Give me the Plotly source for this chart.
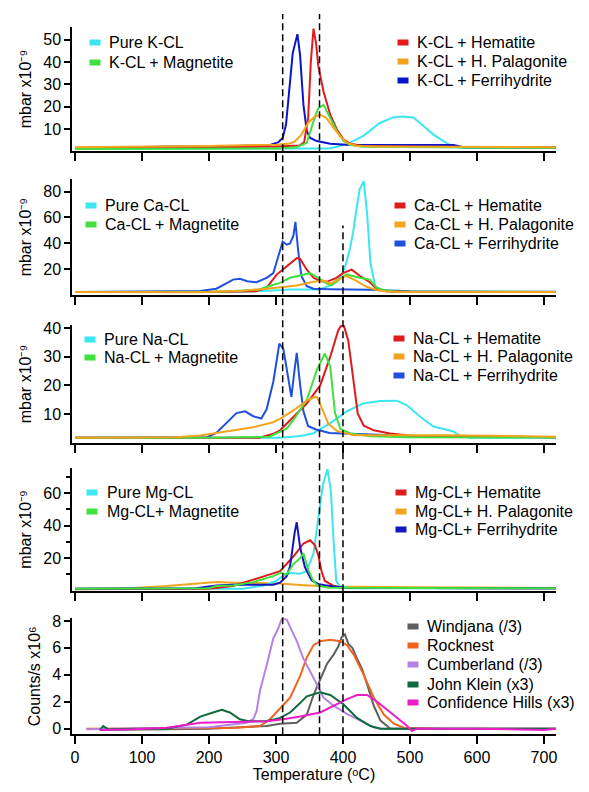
import plotly.graph_objects as go

# ---------------- data (temperature in degC, signal values) ----------------
# Panel 1: K-CL (mbar x1e-9)
K_pure_T = [0, 100, 200, 300, 380, 405, 430, 455, 475, 490, 505, 515, 535, 550, 565, 580, 650, 718]
K_pure = [1.2, 1.2, 1.2, 1.2, 1.3, 3.1, 6.8, 12.7, 15.2, 15.6, 15.2, 12.7, 7.5, 4.6, 1.9, 1.5, 1.5, 1.5]
K_mag_T = [0, 100, 200, 300, 330, 346, 356, 363, 371, 381, 391, 401, 411, 430, 500, 600, 718]
K_mag = [1.0, 1.0, 1.1, 1.3, 1.8, 3.8, 13.4, 19.3, 20.8, 14.9, 9.0, 4.6, 2.8, 2.0, 1.8, 1.7, 1.6]
K_hem_T = [0, 100, 200, 300, 335, 342, 348, 352, 356, 360, 363, 371, 381, 391, 401, 411, 430, 500, 718]
K_hem = [1.5, 1.6, 1.8, 2.2, 2.6, 4.0, 15.0, 40.0, 55.0, 48.0, 38.5, 26.7, 16.4, 9.7, 5.3, 3.4, 2.4, 2.0, 1.8]
K_pal_T = [0, 100, 200, 300, 320, 328, 338, 348, 358, 366, 375, 386, 396, 406, 421, 450, 550, 718]
K_pal = [1.8, 2.0, 2.4, 3.0, 3.5, 4.3, 7.5, 12.7, 15.6, 16.4, 15.0, 10.5, 6.8, 3.8, 2.4, 2.2, 2.0, 1.8]
K_fer_T = [0, 100, 150, 200, 250, 290, 303, 310, 315, 320, 325, 332, 336, 341, 346, 351, 361, 381, 405, 500, 565, 580, 718]
K_fer = [1.5, 1.8, 2.2, 2.0, 2.3, 2.8, 4.0, 6.0, 12.0, 27.0, 44.0, 52.5, 43.0, 20.8, 9.0, 6.0, 4.6, 3.4, 3.0, 2.8, 2.8, 1.8, 1.8]

# Panel 2: Ca-CL
Ca_pure_T = [0, 200, 250, 290, 320, 365, 381, 398, 405, 410, 415, 420, 425, 431, 436, 441, 448, 455, 470, 500, 718]
Ca_pure = [2.4, 2.4, 2.6, 3.5, 4.4, 4.4, 7.6, 15.0, 25.0, 35.0, 48.0, 66.0, 82.0, 88.0, 63.0, 25.0, 7.0, 4.4, 3.1, 2.5, 2.4]
Ca_mag_T = [0, 200, 236, 275, 296, 306, 321, 336, 351, 361, 376, 383, 396, 405, 425, 440, 450, 460, 480, 718]
Ca_mag = [2.4, 2.5, 3.2, 4.4, 8.0, 9.5, 13.4, 15.0, 17.0, 14.0, 9.0, 7.6, 13.0, 16.0, 13.4, 12.0, 6.0, 4.0, 2.7, 2.5]
Ca_hem_T = [0, 200, 270, 286, 301, 321, 331, 336, 346, 356, 366, 376, 390, 400, 413, 425, 440, 450, 465, 500, 600, 718]
Ca_hem = [2.4, 2.4, 3.0, 5.7, 15.9, 24.8, 28.6, 28.0, 19.7, 13.4, 10.8, 10.3, 13.4, 17.0, 19.7, 15.0, 10.0, 5.0, 3.0, 2.4, 2.3, 2.4]
Ca_pal_T = [0, 187, 250, 286, 331, 356, 371, 381, 395, 405, 420, 435, 450, 465, 500, 718]
Ca_pal = [2.4, 2.2, 3.5, 5.0, 7.5, 10.4, 11.3, 9.0, 12.6, 15.0, 11.0, 6.5, 4.0, 2.8, 2.5, 2.4]
Ca_fer_T = [0, 150, 187, 211, 236, 246, 257, 271, 286, 296, 303, 310, 316, 321, 326, 329, 333, 338, 346, 356, 381, 440, 500, 718]
Ca_fer = [2.4, 2.6, 3.2, 5.0, 12.0, 12.6, 10.8, 10.0, 13.4, 17.0, 30.0, 41.4, 39.0, 40.0, 46.0, 56.6, 35.0, 14.6, 7.0, 5.0, 4.6, 4.2, 3.0, 2.6]

# Panel 3: Na-CL
Na_pure_T = [0, 200, 306, 336, 356, 381, 405, 430, 455, 480, 495, 515, 535, 555, 565, 575, 590, 718]
Na_pure = [1.8, 1.8, 1.8, 2.4, 3.4, 6.9, 10.9, 13.7, 14.6, 14.7, 13.2, 9.2, 5.7, 4.6, 4.0, 2.4, 1.8, 1.8]
Na_mag_T = [0, 200, 290, 306, 316, 326, 346, 361, 373, 381, 388, 396, 411, 441, 500, 718]
Na_mag = [1.8, 1.8, 2.2, 3.8, 5.0, 8.0, 15.0, 25.4, 31.1, 26.6, 10.6, 4.9, 3.3, 2.3, 2.0, 1.9]
Na_hem_T = [0, 200, 275, 296, 306, 326, 346, 366, 381, 393, 400, 408, 416, 422, 431, 446, 470, 505, 718]
Na_hem = [1.8, 1.8, 1.8, 3.2, 4.4, 9.0, 13.7, 20.0, 30.0, 39.2, 41.8, 35.5, 20.6, 10.3, 6.0, 4.4, 3.3, 2.4, 2.0]
Na_pal_T = [0, 150, 187, 211, 236, 266, 296, 306, 326, 346, 356, 361, 368, 378, 391, 416, 555, 718]
Na_pal = [1.8, 2.0, 2.6, 3.5, 4.4, 5.5, 7.2, 8.4, 11.3, 14.7, 15.8, 16.0, 12.4, 6.7, 4.2, 2.7, 2.7, 2.2]
Na_fer_T = [0, 150, 197, 211, 226, 241, 254, 266, 278, 286, 296, 305, 311, 317, 323, 328, 331, 336, 341, 348, 360, 380, 430, 505, 718]
Na_fer = [1.8, 2.0, 2.0, 3.5, 7.0, 10.4, 11.0, 9.3, 8.5, 11.7, 21.3, 34.5, 32.7, 23.7, 16.0, 25.9, 31.3, 20.3, 11.0, 5.8, 4.7, 3.5, 3.0, 2.4, 2.0]

# Panel 4: Mg-CL
Mg_pure_T = [0, 250, 280, 300, 310, 321, 336, 346, 356, 363, 370, 377, 382, 386, 390, 395, 410, 718]
Mg_pure = [1.2, 1.3, 3.0, 6.0, 9.0, 10.9, 10.5, 12.0, 23.0, 43.0, 65.0, 74.6, 60.7, 30.4, 6.0, 2.9, 1.5, 1.4]
Mg_mag_T = [0, 200, 211, 236, 266, 296, 307, 316, 326, 336, 341, 348, 356, 363, 380, 718]
Mg_mag = [1.3, 1.5, 2.9, 3.3, 5.3, 9.0, 11.0, 10.0, 16.3, 20.0, 23.0, 13.0, 5.9, 2.9, 1.8, 1.5]
Mg_hem_T = [0, 200, 236, 266, 286, 306, 326, 341, 351, 358, 363, 368, 373, 386, 400, 718]
Mg_hem = [1.0, 1.2, 2.9, 6.9, 9.3, 12.0, 21.0, 29.0, 31.0, 28.0, 22.0, 12.0, 6.0, 3.0, 1.8, 1.5]
Mg_pal_T = [0, 87, 137, 187, 211, 236, 286, 306, 336, 366, 405, 550, 718]
Mg_pal = [1.3, 1.7, 2.9, 4.6, 5.4, 5.0, 4.6, 4.4, 3.6, 2.9, 2.5, 2.0, 1.7]
Mg_fer_T = [0, 180, 211, 236, 296, 306, 316, 321, 328, 331, 336, 343, 353, 363, 373, 400, 718]
Mg_fer = [1.2, 1.5, 3.3, 3.7, 3.7, 5.0, 9.0, 15.0, 36.0, 42.0, 26.8, 14.7, 6.6, 4.2, 3.4, 1.8, 1.5]

# Panel 5: Mars samples (counts/s x1e6)
Wind_T = [37, 100, 200, 286, 306, 331, 346, 356, 366, 376, 386, 393, 398, 403, 408, 414, 421, 428, 436, 446, 456, 471, 550, 650, 718]
Wind = [-0.1, -0.05, 0.0, 0.2, 0.37, 0.44, 1.05, 2.5, 3.7, 4.8, 5.5, 6.1, 6.8, 7.0, 6.3, 6.0, 5.2, 4.5, 3.3, 1.7, 0.6, 0.0, 0.0, 0.0, 0.0]
Rock_T = [17, 100, 236, 276, 291, 306, 321, 336, 346, 356, 366, 381, 396, 406, 416, 431, 446, 461, 476, 491, 550, 718]
Rock = [0.0, 0.0, 0.05, 0.2, 0.7, 1.5, 2.3, 3.9, 5.3, 6.2, 6.5, 6.6, 6.5, 6.2, 5.5, 4.0, 2.3, 1.05, 0.37, 0.07, 0.0, 0.0]
Cumb_T = [17, 100, 200, 256, 266, 271, 276, 286, 296, 303, 309, 316, 321, 331, 341, 351, 361, 371, 386, 406, 426, 446, 456, 500, 600, 718]
Cumb = [-0.05, 0.0, 0.1, 0.44, 0.7, 1.3, 2.8, 4.7, 6.7, 7.4, 8.2, 8.1, 7.6, 6.5, 5.2, 4.3, 3.3, 2.3, 1.7, 1.1, 0.6, 0.1, 0.0, 0.0, 0.0, 0.0]
JK_T = [37, 42, 45, 50, 100, 137, 167, 187, 206, 219, 231, 246, 259, 286, 306, 321, 336, 346, 366, 381, 401, 421, 441, 456, 550, 718]
JK = [-0.1, 0.2, 0.1, -0.05, 0.0, 0.0, 0.3, 0.9, 1.2, 1.4, 1.2, 0.7, 0.55, 0.55, 0.8, 1.2, 1.9, 2.4, 2.7, 2.5, 1.8, 0.8, 0.2, 0.0, 0.0, 0.0]
CH_T = [37, 87, 137, 167, 187, 236, 286, 311, 336, 366, 386, 406, 421, 436, 451, 466, 481, 496, 503, 510, 600, 700, 718]
CH = [-0.1, -0.05, 0.07, 0.3, 0.44, 0.5, 0.55, 0.7, 0.9, 1.2, 1.7, 2.2, 2.5, 2.5, 2.0, 1.4, 0.8, 0.2, -0.17, 0.0, 0.0, -0.1, 0.0]

# Reference temperatures (dashed lines)
VLINES_FULL = [310, 365]
VLINES_LOWER = [400]

# Labels and tick settings
K_labels = ["Pure K-CL", "K-CL + Magnetite", "K-CL + Hematite", "K-CL + H. Palagonite", "K-CL + Ferrihydrite"]
Ca_labels = ["Pure Ca-CL", "Ca-CL + Magnetite", "Ca-CL + Hematite", "Ca-CL + H. Palagonite", "Ca-CL + Ferrihydrite"]
Na_labels = ["Pure Na-CL", "Na-CL + Magnetite", "Na-CL + Hematite", "Na-CL + H. Palagonite", "Na-CL + Ferrihydrite"]
Mg_labels = ["Pure Mg-CL", "Mg-CL+ Magnetite", "Mg-CL+ Hematite", "Mg-CL+ H. Palagonite", "Mg-CL+ Ferrihydrite"]
Mars_labels = ["Windjana (/3)", "Rocknest", "Cumberland (/3)", "John Klein (x3)", "Confidence Hills (x3)"]
X_TICKS = [0, 100, 200, 300, 400, 500, 600, 700]
LAB_YTITLE = "mbar x10\u207b\u2079"
MARS_YTITLE = "Counts/s x10\u2076"
XTITLE = "Temperature (\u1d52C)"

# ---------------- styling ----------------
C_PURE, C_MAG, C_HEM, C_PAL = "#3BE6F0", "#40E040", "#E01B1B", "#F2A41E"
C_FER_K, C_FER_CA, C_FER_MG = "#0A14C8", "#1E50DC", "#1414C0"
C_WIND, C_ROCK, C_CUMB, C_JK, C_CH = "#5F5F5F", "#F0641E", "#B482E6", "#0E6B3C", "#EC1EC8"

W, H = 589, 792
ML, MR = 72, 33
PW = W - ML - MR
FONT = "Liberation Sans, Arial, sans-serif"


def xp(px):
    return (px - ML) / PW


def yp(py):
    return (H - py) / H


panels = [
    dict(series=[(K_pure_T, K_pure, C_PURE), (K_fer_T, K_fer, C_FER_K), (K_hem_T, K_hem, C_HEM),
                 (K_mag_T, K_mag, C_MAG), (K_pal_T, K_pal, C_PAL)],
         labels=K_labels, colors=[C_PURE, C_MAG, C_HEM, C_PAL, C_FER_K],
         px=(21, 147), yrange=[0, 55.8], ticks=[10, 20, 30, 40, 50], minor=None,
         title=LAB_YTITLE,
         legL=(95, 107, [37, 57]), legR=(403, 415, [37, 56, 75])),
    dict(series=[(Ca_pure_T, Ca_pure, C_PURE), (Ca_fer_T, Ca_fer, C_FER_CA), (Ca_hem_T, Ca_hem, C_HEM),
                 (Ca_mag_T, Ca_mag, C_MAG), (Ca_pal_T, Ca_pal, C_PAL)],
         labels=Ca_labels, colors=[C_PURE, C_MAG, C_HEM, C_PAL, C_FER_CA],
         px=(175, 292.5), yrange=[0, 89.7], ticks=[20, 40, 60, 80], minor=None,
         title=LAB_YTITLE,
         legL=(91, 103, [202, 221]), legR=(400, 412, [202, 221, 240])),
    dict(series=[(Na_pure_T, Na_pure, C_PURE), (Na_fer_T, Na_fer, C_FER_CA), (Na_hem_T, Na_hem, C_HEM),
                 (Na_mag_T, Na_mag, C_MAG), (Na_pal_T, Na_pal, C_PAL)],
         labels=Na_labels, colors=[C_PURE, C_MAG, C_HEM, C_PAL, C_FER_CA],
         px=(322.7, 442), yrange=[0, 41], ticks=[10, 20, 30, 40], minor=None,
         title=LAB_YTITLE,
         legL=(90, 102, [337, 356]), legR=(399, 411, [336, 355, 374])),
    dict(series=[(Mg_pal_T, Mg_pal, C_PAL), (Mg_pure_T, Mg_pure, C_PURE), (Mg_hem_T, Mg_hem, C_HEM),
                 (Mg_fer_T, Mg_fer, C_FER_MG), (Mg_mag_T, Mg_mag, C_MAG)],
         labels=Mg_labels, colors=[C_PURE, C_MAG, C_HEM, C_PAL, C_FER_MG],
         px=(467.3, 591.5), yrange=[0, 75.3], ticks=[20, 40, 60], minor=[10, 30, 50, 70],
         title=LAB_YTITLE,
         legL=(92, 105, [492, 511]), legR=(401, 413, [492, 511, 530])),
    dict(series=[(Wind_T, Wind, C_WIND), (Rock_T, Rock, C_ROCK), (Cumb_T, Cumb, C_CUMB),
                 (JK_T, JK, C_JK), (CH_T, CH, C_CH)],
         labels=Mars_labels, colors=[C_WIND, C_ROCK, C_CUMB, C_JK, C_CH],
         px=(619.3, 736.7), yrange=[-0.42, 8.2], ticks=[0, 2, 4, 6, 8], minor=None,
         title=MARS_YTITLE,
         legL=None, legR=(413, 425, [628, 647, 666, 686, 704])),
]

fig = go.Figure()
layout = {}
annotations = []

for i, p in enumerate(panels, start=1):
    sfx = "" if i == 1 else str(i)
    xa, ya = "x" + sfx, "y" + sfx
    names = dict(zip(p["colors"], p["labels"]))
    for T, V, c in p["series"]:
        fig.add_trace(go.Scatter(x=T, y=V, mode="lines", name=names.get(c, ""),
                                 line=dict(color=c, width=2), showlegend=False,
                                 xaxis=xa, yaxis=ya, hoverinfo="skip"))
    last = (i == len(panels))
    xax = dict(
        domain=[0, 1], anchor=ya, range=[-4.5, 718], tickvals=X_TICKS,
        showticklabels=last, ticks="outside", ticklen=8, tickwidth=1.5, tickcolor="black",
        showline=True, linecolor="black", linewidth=1.5, showgrid=False, zeroline=False,
        tickfont=dict(size=16, color="black", family=FONT),
    )
    if last:
        xax["title"] = dict(text=XTITLE, font=dict(size=16, color="black", family=FONT), standoff=4)
    layout["xaxis" + sfx] = xax
    yax = dict(
        domain=[yp(p["px"][1]), yp(p["px"][0])], anchor=xa, range=p["yrange"], tickvals=p["ticks"],
        ticks="outside", ticklen=6, tickwidth=1.5, tickcolor="black",
        showline=True, linecolor="black", linewidth=1.5, showgrid=False, zeroline=False,
        tickfont=dict(size=16, color="black", family=FONT),
        title=dict(text=p["title"], font=dict(size=16, color="black", family=FONT), standoff=8),
    )
    if p["minor"]:
        yax["minor"] = dict(tickvals=p["minor"], ticks="outside", ticklen=4, tickwidth=1.5, tickcolor="black")
    layout["yaxis" + sfx] = yax

    # legend blocks (colour swatch + label)
    groups = []
    if p["legL"]:
        groups.append((p["legL"], list(range(0, 2))))
        groups.append((p["legR"], list(range(2, 5))))
    else:
        groups.append((p["legR"], list(range(0, 5))))
    for (sx, tx, rows), idxs in groups:
        for row, k in zip(rows, idxs):
            col = p["colors"][k]
            annotations.append(dict(xref="paper", yref="paper", x=xp(sx), y=yp(row),
                                    text="\u25a0", showarrow=False, xanchor="center", yanchor="middle",
                                    width=10, height=5, bgcolor=col, borderpad=0,
                                    font=dict(size=8, color=col, family=FONT)))
            annotations.append(dict(xref="paper", yref="paper", x=xp(tx), y=yp(row),
                                    text=p["labels"][k], showarrow=False, xanchor="left", yanchor="middle",
                                    font=dict(size=16, color="black", family=FONT)))

shapes = []
for v in VLINES_FULL:
    shapes.append(dict(type="line", xref="x5", yref="paper", x0=v, x1=v, y0=yp(736.7), y1=yp(8),
                       line=dict(color="black", width=1.5, dash="7px,4px"), layer="above"))
for v in VLINES_LOWER:
    shapes.append(dict(type="line", xref="x5", yref="paper", x0=v, x1=v, y0=yp(736.7), y1=yp(222),
                       line=dict(color="black", width=1.5, dash="7px,4px"), layer="above"))

fig.update_layout(
    width=W, height=H, margin=dict(l=ML, r=MR, t=0, b=0),
    paper_bgcolor="white", plot_bgcolor="white",
    font=dict(family=FONT, size=16, color="black"),
    showlegend=False, annotations=annotations, shapes=shapes,
    **layout,
)

fig.write_html("out.html", config={"displayModeBar": False},
               post_script="document.body.style.margin='0';document.body.style.overflow='hidden';")
